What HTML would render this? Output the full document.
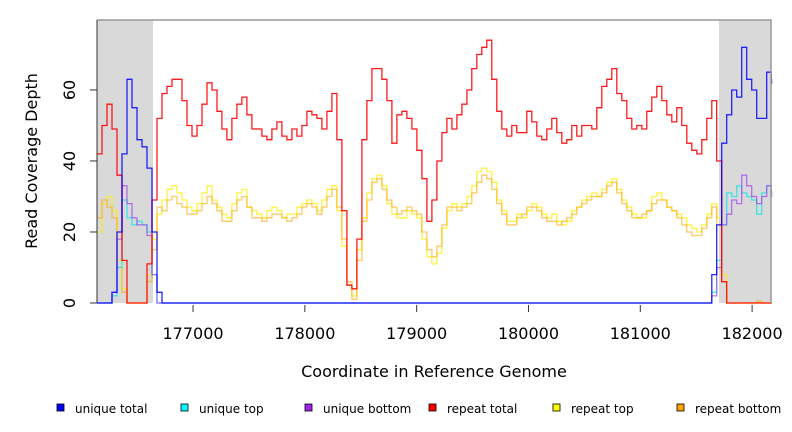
<!DOCTYPE html>
<html><head><meta charset="utf-8"><style>
body{margin:0;background:#fff;}
svg{display:block;font-family:"DejaVu Sans","Liberation Sans",sans-serif;}
</style></head><body>
<svg id="chart" width="792" height="432" viewBox="0 0 792 432" xmlns="http://www.w3.org/2000/svg"></svg>
<script>
// ---- data ----
const xStart = 176141, xStep = 44.7; // genome coordinate of sample i = xStart + i*xStep
const xTicks = [177000,178000,179000,180000,181000,182000];
const yTicks = [0,20,40,60];
const regions = [[176141,176642],[181704,182169]];
const repeatTotal = [42,50,56,49,36,12,0,0,0,0,11,29,52,59,61,63,63,57,50,47,50,56,62,60,54,49,46,52,56,58,53,49,49,47,46,49,51,47,46,49,47,50,54,53,52,49,54,59,46,26,5,4,18,46,57,66,66,63,57,45,53,54,52,49,43,35,23,29,40,48,52,49,53,56,60,66,70,72,74,63,54,49,47,50,48,48,54,51,47,46,49,52,48,45,46,50,47,50,50,49,55,61,63,66,59,57,52,49,50,49,54,58,61,57,53,51,55,50,45,43,42,46,52,57,40,6,0,0,0,0,0,0,0,0,0,0];
const repeatTop = [20,28,30,26,12,4,0,0,0,0,8,18,25,29,32,33,31,29,27,26,28,31,33,29,27,25,24,28,31,32,27,26,25,24,26,27,26,24,25,25,27,28,29,28,26,29,32,33,26,16,5,2,15,24,31,35,36,33,28,25,24,24,26,25,24,18,13,11,14,21,26,28,27,28,30,33,37,38,37,34,29,26,23,23,25,24,26,28,27,25,24,25,23,22,23,26,27,29,30,31,30,32,34,35,32,29,27,25,24,24,26,30,31,29,27,26,25,24,22,21,20,22,25,28,24,8,0,0,0,0,0,0,0,0,0,0];
const repeatBottom = [24,29,27,24,10,3,0,0,0,0,6,15,27,26,29,30,28,27,25,25,26,28,30,28,26,23,23,26,29,30,27,24,24,23,24,25,25,24,23,24,25,27,28,27,25,27,30,32,27,18,6,1,12,23,29,34,35,32,29,27,25,26,27,26,25,20,15,13,16,22,27,27,26,27,28,31,34,36,35,32,28,25,22,22,24,25,27,27,26,24,23,23,22,23,24,25,27,28,29,30,30,31,33,34,31,28,26,24,24,25,26,28,29,29,27,26,24,22,20,19,19,21,24,27,22,6,0,0,0,0,0,0,0.5,0,0,0];
// unique series: left segment starts at sample 0, right segment at sample 122
const uniqueLeftStart = 0, uniqueRightStart = 122;
const uniqueTotalLeft = [0,0,0,3,20,42,63,55,46,44,38,20,3,0];
const uniqueTotalRight = [0,8,22,45,53,60,58,72,63,60,52,52,65,62];
const uniqueTopLeft = [0,0,0,2,10,29,24,22,23,22,20,8,0,0];
const uniqueTopRight = [0,3,12,22,31,30,33,31,30,29,25,31,33,31];
const uniqueBottomLeft = [0,0,0,3,18,33,28,24,22,22,19,8,0,0];
const uniqueBottomRight = [0,2,10,22,25,29,28,36,33,30,28,30,33,30];
const nSamples = 136;

// ---- scales ----
const X0=97, X1=771, Y0=303, Y1=20;
const xMin=176141, xMax=182169, yMax=79.7;
const sx = c => X0 + (c-xMin)/(xMax-xMin)*(X1-X0);
const sy = v => Y0 - v/yMax*(Y0-Y1);
const NS="http://www.w3.org/2000/svg";
const svg=document.getElementById('chart');
function mk(tag,attrs,parent){const e=document.createElementNS(NS,tag);for(const k in attrs)e.setAttribute(k,attrs[k]);(parent||svg).appendChild(e);return e;}

regions.forEach((r,i)=>{
  const e=mk('rect',{x:sx(r[0]),y:Y1,width:sx(r[1])-sx(r[0]),height:Y0-Y1,fill:'#d9d9d9'});
  
  
});

function fullSeries(left,right){
  const a=[];for(let i=0;i<nSamples;i++)a.push(0);
  left.forEach((v,i)=>a[uniqueLeftStart+i]=v);
  right.forEach((v,i)=>a[uniqueRightStart+i]=v);
  return a;
}
function drawStep(vals,color,name,op){
  let d='';
  for(let i=0;i<nSamples;i++){
    const v=vals[i]||0;
    const x=sx(xStart+i*xStep), xn=Math.min(sx(xStart+(i+1)*xStep),X1), y=sy(v);
    d+=(i===0?'M':'L')+x.toFixed(1)+','+y.toFixed(1)+'L'+xn.toFixed(1)+','+y.toFixed(1);
  }
  const p=mk('path',{d:d,fill:'none',stroke:color,'stroke-width':1.3,'stroke-opacity':op});
  
  
}
drawStep(repeatTop,'#ffee00','repeat-top-line',0.75);
drawStep(repeatBottom,'#ffa500','repeat-bottom-line',0.6);
drawStep(fullSeries(uniqueTopLeft,uniqueTopRight),'#00e5e5','unique-top-line',0.7);
drawStep(fullSeries(uniqueBottomLeft,uniqueBottomRight),'#a040f0','unique-bottom-line',0.7);
drawStep(repeatTotal,'#ff0000','repeat-total-line',0.9);
drawStep(fullSeries(uniqueTotalLeft,uniqueTotalRight),'#0000ff','unique-total-line',0.85);

let e=mk('path',{d:`M${X0},${Y1}H${X1}V${Y0}`,fill:'none',stroke:'#999','stroke-width':1.5});

e=mk('line',{x1:X0,y1:Y1,x2:X0,y2:Y0,stroke:'#333','stroke-width':1});


yTicks.forEach(v=>{
  const y=sy(v);
  let t=mk('line',{x1:X0-7,y1:y,x2:X0,y2:y,stroke:'#333'});
  
  let l=mk('text',{x:75,y:y,'font-size':16,'text-anchor':'middle',transform:`rotate(-90 75 ${y})`,fill:'#000'});
  l.textContent=v;
  
});
xTicks.forEach(v=>{
  const x=sx(v);
  let t=mk('line',{x1:x,y1:Y0+2,x2:x,y2:Y0+9,stroke:'#333'});
  
  let l=mk('text',{x:x,y:339,'font-size':16,'text-anchor':'middle',fill:'#000'});
  l.textContent=v;
  
});
e=mk('text',{x:37,y:161,'font-size':16,'text-anchor':'middle',transform:'rotate(-90 37 161)'});
e.textContent='Read Coverage Depth';

e=mk('text',{x:434,y:377,'font-size':16,'text-anchor':'middle'});
e.textContent='Coordinate in Reference Genome';


const legendLabels=['unique total','unique top','unique bottom','repeat total','repeat top','repeat bottom'];
const legendColors=['#0000ff','#00ffff','#a020f0','#ff0000','#ffff00','#ffa500'];
legendLabels.forEach((lab,i)=>{
  const x=57+i*124;
  const g=mk('g',{});
  
  const r=mk('rect',{x:x,y:404,width:7,height:7,fill:legendColors[i],stroke:'#000','stroke-width':0.8},g);
  
  const t=mk('text',{x:x+18,y:413,'font-size':12},g);
  t.textContent=lab;
  
});
</script>
</body></html>
